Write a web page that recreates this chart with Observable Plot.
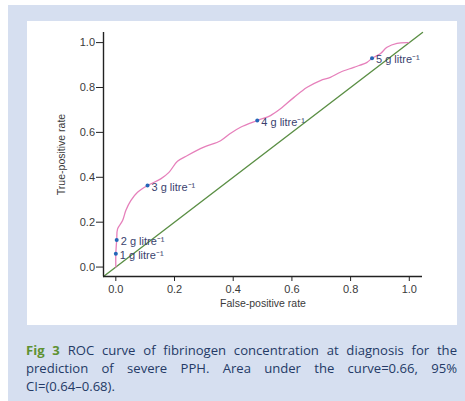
<!DOCTYPE html>
<html><head><meta charset="utf-8">
<script src="https://cdn.jsdelivr.net/npm/d3@7"></script>
<script src="https://cdn.jsdelivr.net/npm/@observablehq/plot@0.6"></script>
<style>
body{margin:0;background:#fff;width:465px;height:401px;overflow:hidden;}
#outer{position:absolute;left:8px;top:5px;width:457px;height:396px;background:#d6dff0;}
#panel{position:absolute;left:27px;top:21px;width:430px;height:304px;background:#fff;}
#caption{position:absolute;left:26px;top:341px;width:431px;font-family:"Open Sans",sans-serif;font-size:13.1px;line-height:18px;color:#243a66;}
#caption .l{display:block;text-align:justify;text-align-last:justify;white-space:nowrap;}
#caption .last{display:block;text-align:left;}
#caption b{color:#5e9132;font-weight:700;}
</style></head>
<body>
<div id="outer"></div>
<div id="panel"></div>
<div id="caption"><span class="l"><b>Fig 3</b> ROC curve of fibrinogen concentration at diagnosis for the</span><span class="l">prediction of severe PPH. Area under the curve=0.66, 95%</span><span class="last">CI=(0.64–0.68).</span></div>
<script>
// ROC curve (false-positive rate, true-positive rate)
const fpr = [0, 0, 0.003, 0.006, 0.023, 0.034, 0.051, 0.074, 0.108, 0.153, 0.181, 0.210, 0.244, 0.300, 0.357, 0.391, 0.425, 0.482, 0.527, 0.561, 0.607, 0.652, 0.697, 0.731, 0.765, 0.811, 0.856, 0.873, 0.901, 0.924, 0.958, 0.998];
const tpr = [0, 0.059, 0.121, 0.170, 0.207, 0.252, 0.296, 0.333, 0.363, 0.393, 0.422, 0.471, 0.497, 0.534, 0.563, 0.596, 0.623, 0.653, 0.675, 0.705, 0.756, 0.801, 0.831, 0.845, 0.868, 0.890, 0.912, 0.930, 0.950, 0.979, 0.997, 1.0];
// Fibrinogen thresholds
const thresholdLabels = ["1 g litre⁻¹", "2 g litre⁻¹", "3 g litre⁻¹", "4 g litre⁻¹", "5 g litre⁻¹"];
const thresholdFpr = [0, 0.003, 0.108, 0.482, 0.873];
const thresholdTpr = [0.059, 0.121, 0.363, 0.653, 0.930];
// Axes
const axisExtent = [-0.042, 1.045];
const tickValues = [0, 0.2, 0.4, 0.6, 0.8, 1.0];
const xLabel = "False-positive rate";
const yLabel = "True-positive rate";

const curve = fpr.map((x, i) => ({x, y: tpr[i]}));
const thresholds = thresholdLabels.map((label, i) => ({label, x: thresholdFpr[i], y: thresholdTpr[i]}));

const chart = Plot.plot({
  width: 430,
  height: 304,
  marginLeft: 76,
  marginRight: 35,
  marginTop: 11,
  marginBottom: 49,
  style: {fontFamily: "Liberation Sans, Arial, sans-serif", fontSize: "11px", color: "#3a3a3a", background: "transparent"},
  x: {domain: axisExtent},
  y: {domain: axisExtent},
  marks: [
    Plot.line(axisExtent, {x: d => d, y: d => d, stroke: "#5b8f45", strokeWidth: 1.4}),
    Plot.line(curve, {x: "x", y: "y", stroke: "#e680bb", strokeWidth: 1.3, curve: "catmull-rom"}),
    Plot.dot(thresholds, {x: "x", y: "y", r: 2, fill: "#2466b8"}),
    Plot.text(thresholds, {x: "x", y: "y", text: "label", textAnchor: "start", dx: 4, dy: 1.5, fill: "#3a3f6e", fontSize: 11}),
    Plot.axisX({ticks: tickValues, tickFormat: d3.format(".1f"), tickSize: 5, tickPadding: 4, label: null, stroke: "#222"}),
    Plot.axisY({ticks: tickValues, tickFormat: d3.format(".1f"), tickSize: 7, tickPadding: 1.5, label: null, stroke: "#222"}),
    Plot.ruleY([axisExtent[0]], {stroke: "#222", strokeWidth: 1.4}),
    Plot.ruleX([axisExtent[0]], {stroke: "#222", strokeWidth: 1.4}),
    Plot.text([xLabel], {frameAnchor: "bottom", dy: 27, lineAnchor: "middle", textAnchor: "middle", fontSize: 10.5, fill: "#3a3a3a"}),
    Plot.text([yLabel], {frameAnchor: "left", dx: -41.5, rotate: -90, lineAnchor: "middle", textAnchor: "middle", fontSize: 10.5, fill: "#3a3a3a"})
  ]
});
chart.style.position = "absolute";
chart.style.left = "27px";
chart.style.top = "21px";
document.body.appendChild(chart);
</script>
</body></html>
